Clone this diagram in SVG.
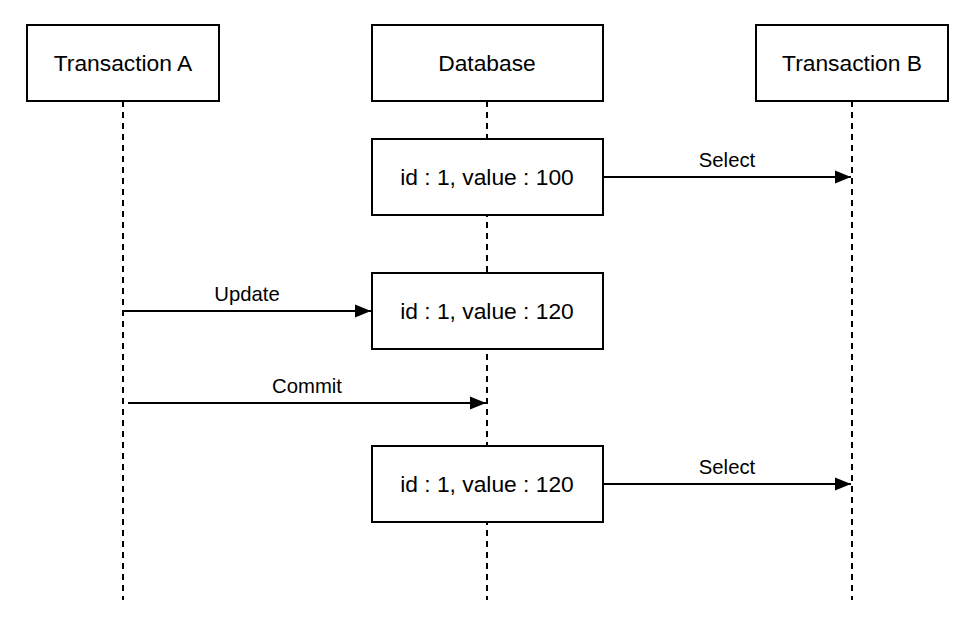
<svg xmlns="http://www.w3.org/2000/svg" width="976" height="626" viewBox="0 0 976 626">
<style>
.box{fill:#fff;stroke:#000;stroke-width:2}
.life{stroke:#000;stroke-width:2;stroke-dasharray:6 5;fill:none}
.msg{stroke:#000;stroke-width:2;fill:none}
.t{font-family:"Liberation Sans",Arial,sans-serif;font-size:22.8px;fill:#000;text-anchor:middle;dominant-baseline:central}
.l{font-family:"Liberation Sans",Arial,sans-serif;font-size:20.3px;fill:#000;text-anchor:middle}
</style>
<defs>
<marker id="arr" markerWidth="17" markerHeight="16" refX="16" refY="8" orient="auto" markerUnits="userSpaceOnUse">
<path d="M0,1.5 L16,8 L0,14.5 Z" fill="#000"/>
</marker>
</defs>
<rect width="976" height="626" fill="#fff"/>
<g id="lifelines">
<line class="life" x1="123" y1="101" x2="123" y2="600"/>
<line class="life" x1="487" y1="101" x2="487" y2="600"/>
<line class="life" x1="852" y1="101" x2="852" y2="600"/>
</g>
<g id="txA"><rect class="box" x="27" y="25" width="192" height="76"/><text class="t" x="123" y="63">Transaction A</text></g>
<g id="db"><rect class="box" x="372" y="25" width="231" height="76"/><text class="t" x="487" y="63">Database</text></g>
<g id="txB"><rect class="box" x="756" y="25" width="192" height="76"/><text class="t" x="852" y="63">Transaction B</text></g>
<g id="v1"><rect class="box" x="372" y="139" width="231" height="76"/><text class="t" x="487" y="177">id : 1, value : 100</text></g>
<g id="v2"><rect class="box" x="372" y="273" width="231" height="76"/><text class="t" x="487" y="311">id : 1, value : 120</text></g>
<g id="v3"><rect class="box" x="372" y="446" width="231" height="76"/><text class="t" x="487" y="484">id : 1, value : 120</text></g>
<g id="connectors">
<line class="msg" x1="603" y1="177" x2="851" y2="177" marker-end="url(#arr)"/>
<text class="l" x="727" y="167">Select</text>
<line class="msg" x1="123" y1="311" x2="371" y2="311" marker-end="url(#arr)"/>
<text class="l" x="247" y="301">Update</text>
<line class="msg" x1="128" y1="403" x2="486" y2="403" marker-end="url(#arr)"/>
<text class="l" x="307" y="393">Commit</text>
<line class="msg" x1="603" y1="484" x2="851" y2="484" marker-end="url(#arr)"/>
<text class="l" x="727" y="474">Select</text>
</g>
</svg>
